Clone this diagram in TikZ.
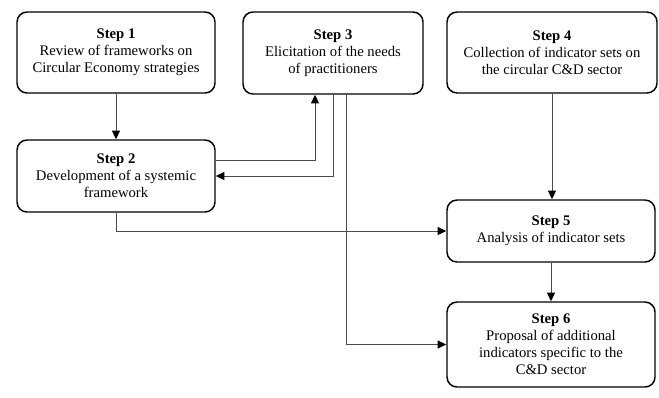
\documentclass[tikz,border=0pt]{standalone}
\usepackage{fontspec}
\setmainfont{Liberation Serif}
\usetikzlibrary{arrows.meta}

\begin{document}
\begin{tikzpicture}[x=0.75pt,y=-0.75pt,
    stepbox/.style={draw,line width=1.1pt,rounded corners=7.5pt,align=center,font=\fontsize{11}{12.75}\selectfont,inner sep=2pt},
    link/.style={draw=black!70,line width=0.7pt,-{Triangle[length=6.5pt,width=6pt,color=black]}}]
    \useasboundingbox (0,0) rectangle (659,397);
    \node[stepbox,minimum width=148.5pt,minimum height=60.75pt] (s1) at (116,52.5) {\textbf{Step 1}\\Review of frameworks on\\Circular Economy strategies};
    \node[stepbox,minimum width=148.5pt,minimum height=54pt] (s2) at (116,176) {\textbf{Step 2}\\Development of a systemic\\framework};
    \node[stepbox,minimum width=135pt,minimum height=61.5pt] (s3) at (333,53) {\textbf{Step 3}\\Elicitation of the needs\\of practitioners};
    \node[stepbox,minimum width=157.5pt,minimum height=60.75pt] (s4) at (552,52.5) {\textbf{Step 4}\\Collection of indicator sets on\\the circular C\&D sector};
    \node[stepbox,minimum width=156pt,minimum height=46.5pt] (s5) at (551,231) {\textbf{Step 5}\\Analysis of indicator sets};
    \node[stepbox,minimum width=156pt,minimum height=63.75pt] (s6) at (551,344.5) {\textbf{Step 6}\\Proposal of additional\\indicators specific to the\\C\&D sector};
    \draw[link] (s1.south) -- (s2.north);
    \draw[link] ([yshift=12pt]s2.east) -| ([xshift=-13.5pt]s3.south);
    \draw[link] (s3.south) |- (s2.east);
    \draw[link] ([xshift=9.75pt]s3.south) |- (s6.west);
    \draw[link] (s2.south) |- (s5.west);
    \draw[link] (s4.south) -- (s4.south |- s5.north);
    \draw[link] (s5.south) -- (s6.north);
\end{tikzpicture}
\end{document}
